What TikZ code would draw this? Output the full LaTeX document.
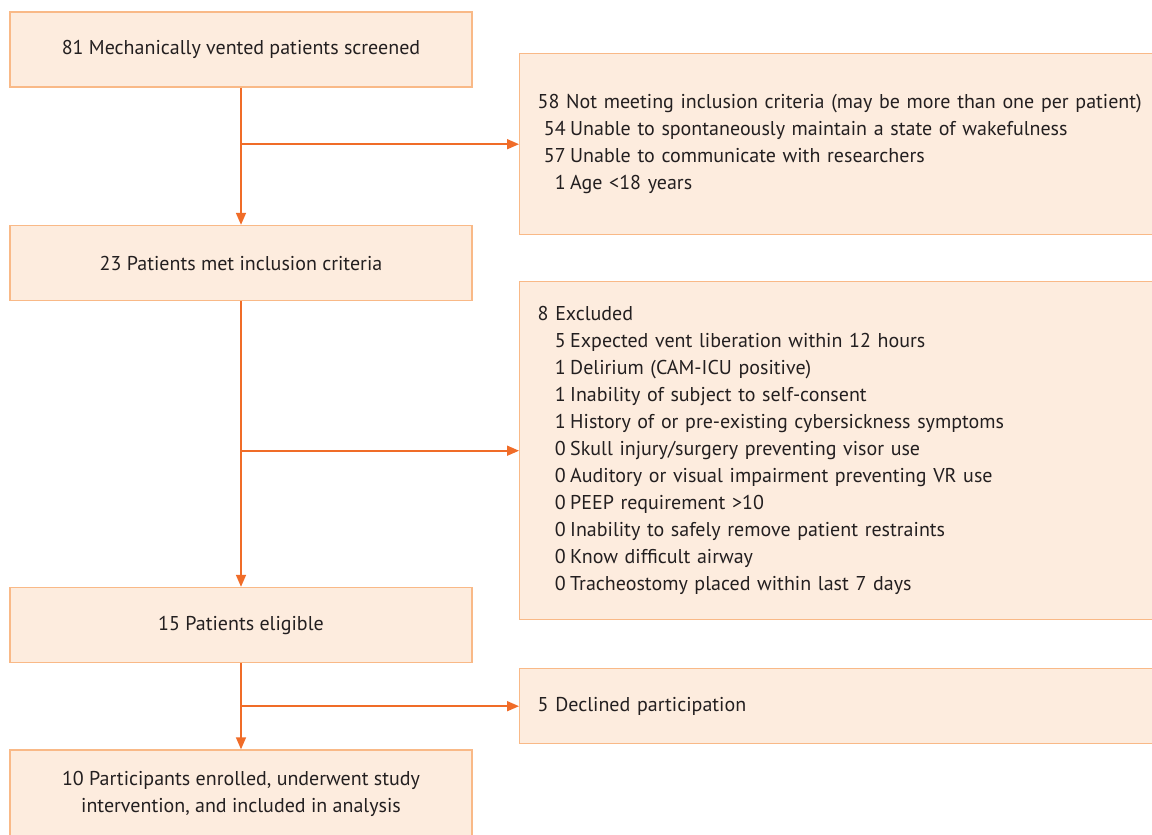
\documentclass[tikz,border=0pt]{standalone}
\usepackage{fontspec}
\setmainfont{PT Sans}
\usetikzlibrary{arrows.meta}
\definecolor{boxfill}{RGB}{253,236,222}
\definecolor{boxline}{RGB}{249,185,135}
\definecolor{arrowc}{RGB}{240,108,40}
\definecolor{txt}{RGB}{35,31,32}
\newcommand\itm[2]{\hspace*{10pt}\makebox[18pt][r]{#1}\hspace{4.5pt}#2}
\begin{document}
\begin{tikzpicture}[x=1pt,y=-1pt,
  box/.style={draw=boxline,fill=boxfill,line width=1.4pt,text=txt,
    font=\fontsize{20}{27}\selectfont,inner sep=0pt},
  lbox/.style={box,minimum width=462pt,minimum height=75pt,align=center},
  rbox/.style={box,anchor=north west,minimum width=660pt,text width=624pt,
    inner xsep=18pt,align=left},
  arr/.style={draw=arrowc,line width=1.6pt,-{Triangle[length=12pt,width=10pt]}}]
\clip (0,0) rectangle (1152,835);
\fill[white] (0,0) rectangle (1152,835);
\node[lbox] (n1) at (241,49.5) {81 Mechanically vented patients screened};
\node[lbox] (n2) at (241,263) {23 Patients met inclusion criteria};
\node[lbox] (n3) at (241,625) {15 Patients eligible};
\node[lbox,minimum height=88pt] (n4) at (241,794) {10 Participants enrolled, underwent study\\intervention, and included in analysis};
\node[rbox,minimum height=181pt] (r1) at (519,53) {58 Not meeting inclusion criteria (may be more than one per patient)\\
\itm{54}{Unable to spontaneously maintain a state of wakefulness}\\
\itm{57}{Unable to communicate with researchers}\\
\itm{1}{Age <18 years}};
\node[rbox,minimum height=338pt] (r2) at (519,281) {8 Excluded\\
\itm{5}{Expected vent liberation within 12 hours}\\
\itm{1}{Delirium (CAM-ICU positive)}\\
\itm{1}{Inability of subject to self-consent}\\
\itm{1}{History of or pre-existing cybersickness symptoms}\\
\itm{0}{Skull injury/surgery preventing visor use}\\
\itm{0}{Auditory or visual impairment preventing VR use}\\
\itm{0}{PEEP requirement >10}\\
\itm{0}{Inability to safely remove patient restraints}\\
\itm{0}{Know difficult airway}\\
\itm{0}{Tracheostomy placed within last 7 days}};
\node[rbox,minimum height=75pt] (r3) at (519,668) {5 Declined participation};
\draw[arr] (n1.south) -- (n2.north);
\draw[arr] (n2.south) -- (n3.north);
\draw[arr] (n3.south) -- (n4.north);
\draw[arr] (n1.south |- r1.west) -- (r1.west);
\draw[arr] (n2.south |- r2.west) -- (r2.west);
\draw[arr] (n3.south |- r3.west) -- (r3.west);
\end{tikzpicture}
\end{document}
